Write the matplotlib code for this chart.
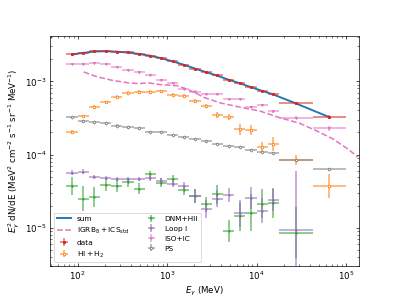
import numpy as np
import matplotlib
matplotlib.use('Agg')
import matplotlib.pyplot as plt

# energy bins (MeV): 19 bins of 1/8 decade, then two wide bins
bin_edges_log = [1.875, 2.0, 2.125, 2.25, 2.375, 2.5, 2.625, 2.75, 2.875, 3.0, 3.125,
                 3.25, 3.375, 3.5, 3.625, 3.75, 3.875, 4.0, 4.125, 4.25, 4.625, 5.0]

data = [2.35e-3, 2.43e-3, 2.56e-3, 2.58e-3, 2.54e-3, 2.48e-3, 2.35e-3, 2.24e-3, 2.06e-3,
        1.87e-3, 1.67e-3, 1.49e-3, 1.33e-3, 1.20e-3, 1.05e-3, 9.4e-4, 8.3e-4, 7.4e-4,
        6.65e-4, 5.0e-4, 3.24e-4]
data_err = [0.01] * 19 + [0.02, 0.03]

model_sum = [2.33e-3, 2.44e-3, 2.55e-3, 2.57e-3, 2.54e-3, 2.47e-3, 2.36e-3, 2.23e-3, 2.06e-3,
             1.87e-3, 1.68e-3, 1.49e-3, 1.33e-3, 1.19e-3, 1.05e-3, 9.4e-4, 8.3e-4, 7.4e-4,
             6.6e-4, 5.0e-4, 3.24e-4]

hi_h2 = [2.02e-4, 3.34e-4, 4.47e-4, 5.15e-4, 6.19e-4, 6.93e-4, 7.19e-4, 7.19e-4, 7.31e-4,
         6.52e-4, 6.31e-4, 5.43e-4, 4.62e-4, 3.45e-4, 3.22e-4, 2.20e-4, 2.16e-4, 1.28e-4,
         1.39e-4, 8.4e-5, 3.73e-5]
hi_h2_err = [0.03, 0.02, 0.02, 0.02, 0.02, 0.02, 0.02, 0.02, 0.02, 0.02, 0.02, 0.03,
             0.03, 0.04, 0.04, 0.07, 0.07, 0.07, 0.09, 0.07, 0.16]

dnm_hii = [3.69e-5, 2.50e-5, 2.64e-5, 3.85e-5, 3.69e-5, 4.19e-5, 3.43e-5, 5.38e-5, 4.13e-5,
           4.60e-5, 3.29e-5, 2.72e-5, 2.10e-5, 2.88e-5, 9.1e-6, 1.44e-5, 1.61e-5, 2.14e-5,
           2.17e-5, 8.55e-6, np.nan]
dnm_hii_err = [0.12, 0.17, 0.14, 0.08, 0.08, 0.06, 0.08, 0.05, 0.06, 0.06, 0.07, 0.10,
               0.10, 0.13, 0.15, 0.20, 0.25, 0.20, 0.20, 0.35, 0.3]

loop_i = [5.65e-5, 5.83e-5, 4.94e-5, 4.79e-5, 4.64e-5, 4.57e-5, 4.64e-5, 4.71e-5, 4.35e-5,
          4.01e-5, 3.73e-5, 2.72e-5, 1.80e-5, 2.51e-5, 2.79e-5, 1.57e-5, 2.56e-5, 1.70e-5,
          2.40e-5, 9.3e-6, np.nan]
loop_i_err = [0.03, 0.03, 0.03, 0.03, 0.03, 0.03, 0.03, 0.03, 0.04, 0.05, 0.06, 0.10,
              0.12, 0.12, 0.10, 0.18, 0.15, 0.17, 0.15, 0.8, 0.3]

iso_ic = [1.72e-3, 1.74e-3, 1.76e-3, 1.72e-3, 1.58e-3, 1.44e-3, 1.32e-3, 1.22e-3, 1.03e-3,
          9.5e-4, 7.96e-4, 7.24e-4, 6.72e-4, 6.66e-4, 5.69e-4, 5.69e-4, 4.43e-4, 4.76e-4,
          3.87e-4, 3.19e-4, 2.27e-4]
iso_ic_err = [0.015] * 19 + [0.02, 0.03]

ps = [3.27e-4, 2.83e-4, 2.74e-4, 2.66e-4, 2.49e-4, 2.34e-4, 2.27e-4, 2.02e-4, 2.02e-4,
      1.86e-4, 1.75e-4, 1.61e-4, 1.51e-4, 1.40e-4, 1.29e-4, 1.27e-4, 1.14e-4, 1.07e-4,
      1.04e-4, 8.41e-5, 6.29e-5]
ps_err = [0.015] * 19 + [0.02, 0.02]

# IGRB + ICS model curve
igrb_e = [117, 159, 244, 373, 482, 623, 842, 1300, 1963, 2600, 3926, 6560, 1.10e4,
          1.74e4, 3.06e4, 4.74e4, 7.15e4, 1.05e5, 1.36e5]
igrb_v = [1.34e-3, 1.17e-3, 1.03e-3, 9.5e-4, 9.3e-4, 9.5e-4, 9.0e-4, 8.7e-4, 7.2e-4,
          6.0e-4, 5.07e-4, 4.43e-4, 3.91e-4, 3.24e-4, 2.66e-4, 2.09e-4, 1.63e-4,
          1.19e-4, 9.2e-5]

edges = 10 ** np.array(bin_edges_log)
e = np.sqrt(edges[:-1] * edges[1:])
xerr = [e - edges[:-1], edges[1:] - e]


def yerr_of(v, d):
    v = np.array(v, dtype=float)
    d = np.array(d)
    return [v * (1 - 10 ** -d), v * (10 ** d - 1)]


fig, ax = plt.subplots(figsize=(6.4, 4.8))

h_sum, = ax.plot(e, model_sum, color='tab:blue', lw=2.2, zorder=3, label='sum')
h_igrb, = ax.plot(igrb_e, igrb_v, color='tab:pink', ls='--', lw=1.8,
                  label=r'$\rm IGRB_8+ICS_{std}$')

ekw = dict(ls='none', elinewidth=2.0, capsize=0)
h_data = ax.errorbar(e, data, xerr=xerr, yerr=yerr_of(data, data_err), color='tab:red',
                     marker='s', ms=2.5, zorder=4, label='data', **ekw)
h_hi = ax.errorbar(e, hi_h2, xerr=xerr, yerr=yerr_of(hi_h2, hi_h2_err), color='tab:orange',
                   marker='o', ms=3, mfc='white', label=r'$\rm HI+H_2$', **ekw)
h_dnm = ax.errorbar(e, dnm_hii, xerr=xerr, yerr=yerr_of(dnm_hii, dnm_hii_err), color='tab:green',
                    marker='.', ms=3, label='DNM+HII', **ekw)
h_loop = ax.errorbar(e, loop_i, xerr=xerr, yerr=yerr_of(loop_i, loop_i_err), color='tab:purple',
                     marker='.', ms=3, label='Loop I', **ekw)
h_iso = ax.errorbar(e, iso_ic, xerr=xerr, yerr=yerr_of(iso_ic, iso_ic_err), color='tab:pink',
                    marker='v', ms=2.5, label='ISO+IC', **ekw)
h_ps = ax.errorbar(e, ps, xerr=xerr, yerr=yerr_of(ps, ps_err), color='tab:gray',
                   marker='D', ms=2.5, mfc='white', label='PS', **ekw)

for h in [h_data, h_hi, h_dnm, h_loop, h_iso, h_ps]:
    for lc in h[2]:
        lc.set_alpha(0.6)

ax.set_xscale('log')
ax.set_yscale('log')
ax.set_xlim(49, 1.4e5)
ax.set_ylim(3e-6, 4.2e-3)
ax.tick_params(which='both', direction='in', top=True, right=True)
ax.set_xlabel(r'$E_\gamma$ (MeV)')
ax.set_ylabel(r'$E_\gamma^2$ dN/dE (MeV$^2$ cm$^{-2}$ s$^{-1}$ sr$^{-1}$ MeV$^{-1}$)')

ax.legend(handles=[h_sum, h_igrb, h_data, h_hi, h_dnm, h_loop, h_iso, h_ps],
          loc='lower left', ncol=2, fontsize=8.5)

plt.savefig('out.png', dpi=62.35)
